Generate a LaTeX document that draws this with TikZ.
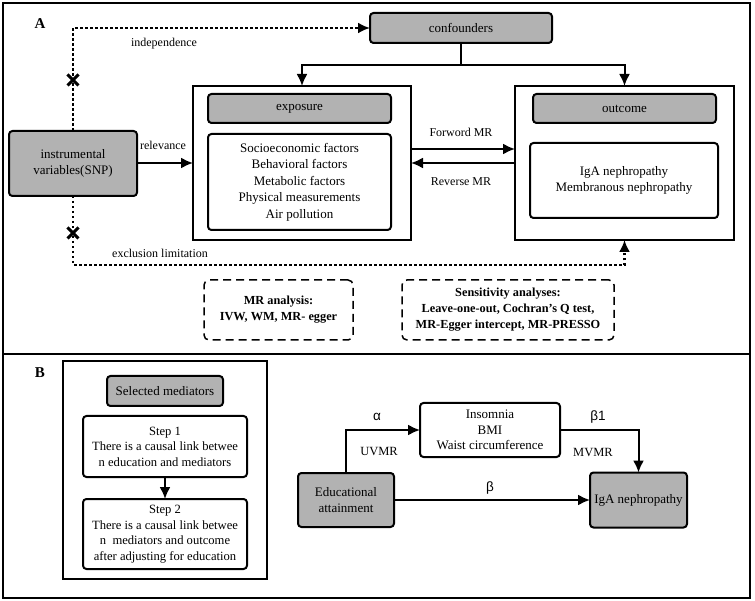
\documentclass[tikz,border=0pt]{standalone}
\usepackage{fontspec}
\setmainfont{Liberation Serif}
\newfontfamily\grk{Liberation Sans}
\usetikzlibrary{arrows.meta,shapes.misc,calc}
\begin{document}
\begin{tikzpicture}[x=1pt,y=-1pt,
  every node/.style={inner sep=0pt,outer sep=0pt},
  base/.style={draw=black,line width=2pt,align=center,font=\fontsize{13}{16.5}\selectfont},
  gbox/.style={base,fill=boxgray,rounded corners=3.5pt},
  wbox/.style={base,fill=white,rounded corners=3.5pt},
  bigbox/.style={base,fill=white},
  dbox/.style={draw=black,line width=1.5pt,dash pattern=on 8pt off 5pt,rounded corners=5pt,align=center,font=\bfseries\fontsize{12.3}{16}\selectfont},
  lab/.style={font=\fontsize{12}{14}\selectfont},
  glab/.style={font=\grk\fontsize{13.5}{15}\selectfont},
  tip/.style={-{Latex[length=12pt,width=11pt]}},
  conn/.style={line width=2pt,tip},
  plain/.style={line width=2pt},
  dotline/.style={line width=2.2pt,dash pattern=on 2.5pt off 2.5pt},
  xmark/.style={cross out,draw=black,line width=3pt,minimum size=11pt}
]
\definecolor{boxgray}{RGB}{178,178,178}
\useasboundingbox (0,0) rectangle (755,601);
% frames
\draw[line width=2pt] (3,3) rectangle (750,598);
\draw[line width=2pt] (3,354) -- (750,354);
\node[font=\bfseries\fontsize{15}{17}\selectfont] (lA) at (40,24) {A};
\node[font=\bfseries\fontsize{15}{17}\selectfont] (lB) at (40,373) {B};

% Panel A
\node[gbox,minimum width=182pt,minimum height=30pt] (conf) at (461,28) {confounders};
\node[bigbox,minimum width=218pt,minimum height=154pt] (expbig) at (302,163) {};
\node[gbox,minimum width=183pt,minimum height=29pt] (expgray) at (299.5,108.5) {exposure};
\node[wbox,minimum width=183pt,minimum height=96pt] (explist) at (299.5,182) {Socioeconomic factors\\Behavioral factors\\Metabolic factors\\Physical measurements\\Air pollution};
\node[bigbox,minimum width=219pt,minimum height=154pt] (outbig) at (624.5,163) {};
\node[gbox,minimum width=183pt,minimum height=29pt] (outgray) at (624.5,108.5) {outcome};
\node[wbox,minimum width=188pt,minimum height=75pt] (outlist) at (624,180.5) {IgA nephropathy\\Membranous nephropathy};
\node[gbox,minimum width=128pt,minimum height=65pt] (iv) at (73,163.5) {instrumental\\variables(SNP)};
\node[dbox,minimum width=149pt,minimum height=60pt] (mr) at (278.5,310) {MR analysis:\\IVW, WM, MR- egger};
\node[dbox,minimum width=212pt,minimum height=60pt] (sens) at (508,310) {Sensitivity analyses:\\Leave-one-out, Cochran’s Q test,\\MR-Egger intercept, MR-PRESSO};

% connectors A
\draw[dotline,tip] (iv.north) |- (conf.west);
\node[xmark] (x1) at (73,80) {};
\node[lab] (indep) at (164,44) {independence};
\coordinate (cj) at (461,65);
\draw[plain] (conf.south) -- (cj);
\draw[conn] (cj) -| (expbig.north);
\draw[conn] (cj) -| (outbig.north);
\draw[conn] (iv.east |- expbig.west) -- (expbig.west);
\node[lab] (rel) at (163,145) {relevance};
\draw[conn] ($(expbig.east)+(0,-14)$) -- ($(outbig.west)+(0,-14)$);
\draw[conn] (outbig.west) -- (expbig.east);
\node[lab] (fwd) at (461,132) {Forword MR};
\node[lab] (rev) at (461,182) {Reverse MR};
\coordinate (exc) at (624.5,265);
\draw[dotline,tip] (iv.south) |- (exc) -- (outbig.south);
\node[xmark] (x2) at (73,233) {};
\node[lab] (exl) at (160,253) {exclusion limitation};

% Panel B
\node[bigbox,minimum width=204pt,minimum height=218pt] (lbox) at (165,470) {};
\node[gbox,minimum width=116pt,minimum height=30pt] (selmed) at (165,391) {Selected mediators};
\node[wbox,minimum width=164pt,minimum height=61pt,font=\fontsize{12.6}{15.5}\selectfont] (step1) at (165,446.5) {Step 1\\There is a causal link betwee\\n education and mediators};
\node[wbox,minimum width=164pt,minimum height=70pt,font=\fontsize{12.6}{15.5}\selectfont] (step2) at (165,534) {Step 2\\There is a causal link betwee\\n \ mediators and outcome\\after adjusting for education};
\draw[conn] (step1.south) -- (step2.north);

\node[gbox,minimum width=96pt,minimum height=54pt] (edu) at (346,500) {Educational\\attainment};
\node[wbox,minimum width=140pt,minimum height=54pt,font=\fontsize{13}{15.5}\selectfont] (med) at (490,430) {Insomnia\\BMI\\Waist circumference};
\node[gbox,minimum width=97pt,minimum height=55pt] (iga) at (638.5,500) {IgA nephropathy};
\draw[conn] (edu.north) |- (med.west);
\draw[conn] (med.east) -| (iga.north);
\draw[conn] (edu.east) -- (iga.west);
\node[glab] (al) at (377,417) {α};
\node[lab,font=\fontsize{12.5}{14}\selectfont] (uv) at (379,452) {UVMR};
\node[glab] (b1) at (598,417) {β1};
\node[lab,font=\fontsize{12.5}{14}\selectfont] (mv) at (593,453) {MVMR};
\node[glab] (bb) at (490,488) {β};
\end{tikzpicture}
\end{document}
